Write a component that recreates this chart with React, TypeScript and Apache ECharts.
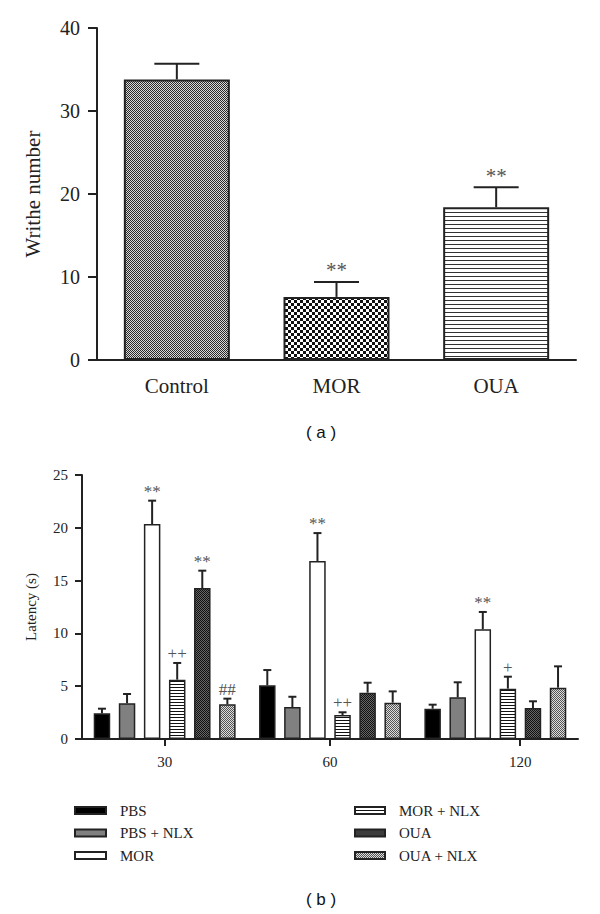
import React, { useEffect, useRef } from 'react';
import * as echarts from 'echarts';

// ---------- Data: (a) writhing test ----------
const writheCategories = ['Control', 'MOR', 'OUA'];
const writheMeans = [33.8, 7.6, 18.4];
const writheErrors = [1.9, 1.8, 2.4];
const writheMarks = ['', '**', '**'];

// ---------- Data: (b) latency test ----------
const timeCategories = ['30', '60', '120'];
const groupNames = ['PBS', 'PBS + NLX', 'MOR', 'MOR + NLX', 'OUA', 'OUA + NLX'];
const pbsMeans = [2.43, 5.08, 2.87];
const pbsErrors = [0.44, 1.45, 0.38];
const pbsMarks = ['', '', ''];
const pbsNlxMeans = [3.38, 3.03, 3.95];
const pbsNlxErrors = [0.88, 0.97, 1.42];
const pbsNlxMarks = ['', '', ''];
const morMeans = [20.36, 16.86, 10.39];
const morErrors = [2.21, 2.64, 1.64];
const morMarks = ['**', '**', '**'];
const morNlxMeans = [5.62, 2.27, 4.77];
const morNlxErrors = [1.58, 0.26, 1.13];
const morNlxMarks = ['++', '++', '+'];
const ouaMeans = [14.3, 4.39, 2.93];
const ouaErrors = [1.64, 0.94, 0.64];
const ouaMarks = ['**', '', ''];
const ouaNlxMeans = [3.28, 3.44, 4.86];
const ouaNlxErrors = [0.54, 1.07, 2.02];
const ouaNlxMarks = ['##', '', ''];

const SERIF = '"Liberation Serif", "Times New Roman", serif';
const SANS = '"Liberation Sans", Arial, sans-serif';
const INK = '#222';
const MARK = '#555';

function makePattern(w: number, h: number, draw: (ctx: CanvasRenderingContext2D) => void) {
  const c = document.createElement('canvas');
  c.width = w;
  c.height = h;
  const ctx = c.getContext('2d') as CanvasRenderingContext2D;
  draw(ctx);
  return { image: c, repeat: 'repeat', imageWidth: w, imageHeight: h } as any;
}

function checker(cell: number, a: string, b: string) {
  return makePattern(cell * 2, cell * 2, (ctx) => {
    ctx.fillStyle = b;
    ctx.fillRect(0, 0, cell * 2, cell * 2);
    ctx.fillStyle = a;
    ctx.fillRect(0, 0, cell, cell);
    ctx.fillRect(cell, cell, cell, cell);
  });
}

function hstripes(h: number, line: string, bg: string) {
  return makePattern(4, h, (ctx) => {
    ctx.fillStyle = bg;
    ctx.fillRect(0, 0, 4, h);
    ctx.fillStyle = line;
    ctx.fillRect(0, 0, 4, 1);
  });
}

function errorRenderer(
  offset: number,
  capHalf: number,
  lineWidth: number,
  marks: string[],
  fontSize: number,
  markGap: number
) {
  return (params: any, api: any) => {
    const cat = api.value(0);
    const mean = api.value(1);
    const err = api.value(2);
    const p0 = api.coord([cat, mean]);
    const p1 = api.coord([cat, mean + err]);
    const x = p0[0] + offset;
    const children: any[] = [
      {
        type: 'line',
        shape: { x1: x, y1: p0[1], x2: x, y2: p1[1] },
        style: { stroke: INK, lineWidth },
      },
      {
        type: 'line',
        shape: { x1: x - capHalf, y1: p1[1], x2: x + capHalf, y2: p1[1] },
        style: { stroke: INK, lineWidth },
      },
    ];
    const mark = marks[params.dataIndex];
    if (mark) {
      children.push({
        type: 'text',
        x,
        y: p1[1] - markGap,
        style: {
          text: mark,
          fill: MARK,
          fontSize,
          fontFamily: SERIF,
          align: 'center',
          verticalAlign: 'bottom',
        },
      });
    }
    return { type: 'group', children };
  };
}

export default function App() {
  const ref = useRef<HTMLDivElement>(null);

  useEffect(() => {
    if (!ref.current) return;
    const chart = echarts.init(ref.current, null, { renderer: 'svg' });

    const topPatterns = [
      checker(1, '#2a2a2a', '#d8d8d8'),
      checker(3, '#111', '#fff'),
      hstripes(4, '#333', '#fff'),
    ];

    const groupMeans = [pbsMeans, pbsNlxMeans, morMeans, morNlxMeans, ouaMeans, ouaNlxMeans];
    const groupErrors = [pbsErrors, pbsNlxErrors, morErrors, morNlxErrors, ouaErrors, ouaNlxErrors];
    const groupMarks = [pbsMarks, pbsNlxMarks, morMarks, morNlxMarks, ouaMarks, ouaNlxMarks];
    const groupFills: any[] = [
      '#000',
      '#808080',
      '#fff',
      hstripes(3, '#111', '#fff'),
      checker(1, '#111', '#666'),
      checker(1, '#555', '#dcdcdc'),
    ];

    const BAR_W = 16.5;
    const BAR_GAP = 0.52;
    const pitch = BAR_W * (1 + BAR_GAP);
    const n = groupNames.length;

    const series: any[] = [
      {
        type: 'bar',
        xAxisIndex: 0,
        yAxisIndex: 0,
        barWidth: 106,
        data: writheMeans.map((v, i) => ({ value: v, itemStyle: { color: topPatterns[i] } })),
        itemStyle: { borderColor: INK, borderWidth: 2 },
        z: 2,
      },
      {
        type: 'custom',
        xAxisIndex: 0,
        yAxisIndex: 0,
        data: writheMeans.map((m, i) => [i, m, writheErrors[i]]),
        encode: { x: 0, y: 1 },
        itemStyle: { color: MARK },
        renderItem: errorRenderer(0, 22.5, 2, writheMarks, 21, 1),
        z: 3,
      },
    ];

    groupNames.forEach((name, gi) => {
      series.push({
        type: 'bar',
        name,
        xAxisIndex: 1,
        yAxisIndex: 1,
        barWidth: BAR_W,
        barGap: `${BAR_GAP * 100}%`,
        data: groupMeans[gi],
        itemStyle: { color: groupFills[gi], borderColor: INK, borderWidth: 1.5 },
        z: 2,
      });
    });
    groupNames.forEach((name, gi) => {
      series.push({
        type: 'custom',
        xAxisIndex: 1,
        yAxisIndex: 1,
        data: groupMeans[gi].map((m, i) => [i, m, groupErrors[gi][i]]),
        encode: { x: 0, y: 1 },
        itemStyle: { color: MARK },
        renderItem: errorRenderer((gi - (n - 1) / 2) * pitch, 4, 2, groupMarks[gi], 17, 1),
        z: 3,
      });
    });

    const tickPositions = [0.5, 1.5, 2.65];

    chart.setOption({
      animation: false,
      backgroundColor: '#fff',
      grid: [
        { left: 97, right: 24, top: 28, bottom: 554, containLabel: false },
        { left: 82, right: 22, top: 475, bottom: 175, containLabel: false },
      ],
      xAxis: [
        {
          type: 'category',
          gridIndex: 0,
          data: writheCategories,
          axisLine: { lineStyle: { color: INK, width: 2 } },
          axisTick: { alignWithLabel: true, length: 9, lineStyle: { color: INK, width: 2 } },
          axisLabel: { color: INK, fontSize: 21, fontFamily: SERIF, margin: 15 },
        },
        {
          type: 'category',
          gridIndex: 1,
          data: timeCategories,
          axisLine: { lineStyle: { color: INK, width: 2 } },
          axisTick: { show: false },
          axisLabel: { show: false },
        },
        {
          type: 'value',
          gridIndex: 1,
          min: 0,
          max: 3,
          position: 'bottom',
          axisLine: { show: false },
          splitLine: { show: false },
          axisTick: { show: true, customValues: tickPositions, length: 7, lineStyle: { color: INK, width: 2 } },
          axisLabel: {
            show: true,
            customValues: tickPositions,
            formatter: (v: number) => timeCategories[Math.floor(v)],
            color: INK,
            fontSize: 15,
            fontFamily: SERIF,
            margin: 15,
          },
        },
      ],
      yAxis: [
        {
          type: 'value',
          gridIndex: 0,
          min: 0,
          max: 40,
          interval: 10,
          name: 'Writhe number',
          nameLocation: 'middle',
          nameGap: 54,
          nameTextStyle: { color: INK, fontSize: 21, fontFamily: SERIF },
          axisLine: { show: true, lineStyle: { color: INK, width: 2 } },
          axisTick: { show: true, length: 9, lineStyle: { color: INK, width: 2 } },
          axisLabel: { color: INK, fontSize: 20, fontFamily: SERIF, margin: 17 },
          splitLine: { show: false },
        },
        {
          type: 'value',
          gridIndex: 1,
          min: 0,
          max: 25,
          interval: 5,
          name: 'Latency (s)',
          nameLocation: 'middle',
          nameGap: 44,
          nameTextStyle: { color: INK, fontSize: 15, fontFamily: SERIF },
          axisLine: { show: true, lineStyle: { color: INK, width: 2 } },
          axisTick: { show: true, length: 7, lineStyle: { color: INK, width: 2 } },
          axisLabel: { color: INK, fontSize: 15, fontFamily: SERIF, margin: 14 },
          splitLine: { show: false },
        },
      ],
      legend: [
        {
          orient: 'vertical',
          left: 74,
          top: 803,
          padding: 0,
          itemWidth: 31,
          itemHeight: 7,
          itemGap: 7.5,
          icon: 'rect',
          selectedMode: false,
          data: groupNames.slice(0, 3),
          textStyle: { color: INK, fontSize: 15, fontFamily: SERIF, padding: [0, 0, 0, 9] },
        },
        {
          orient: 'vertical',
          left: 354,
          top: 803,
          padding: 0,
          itemWidth: 30,
          itemHeight: 7,
          itemGap: 7.5,
          icon: 'rect',
          selectedMode: false,
          data: groupNames.slice(3),
          textStyle: { color: INK, fontSize: 15, fontFamily: SERIF, padding: [0, 0, 0, 9] },
        },
      ],
      graphic: [
        {
          type: 'text',
          x: 321,
          y: 432,
          style: { text: '( a )', fill: '#111', fontSize: 17, fontFamily: SANS, align: 'center', verticalAlign: 'middle' },
        },
        {
          type: 'text',
          x: 321,
          y: 899,
          style: { text: '( b )', fill: '#111', fontSize: 17, fontFamily: SANS, align: 'center', verticalAlign: 'middle' },
        },
      ],
      series,
    });

    return () => {
      chart.dispose();
    };
  }, []);

  return (
    <div
      ref={ref}
      style={{ position: 'absolute', left: 0, top: 0, width: 600, height: 914, background: '#fff' }}
    />
  );
}
